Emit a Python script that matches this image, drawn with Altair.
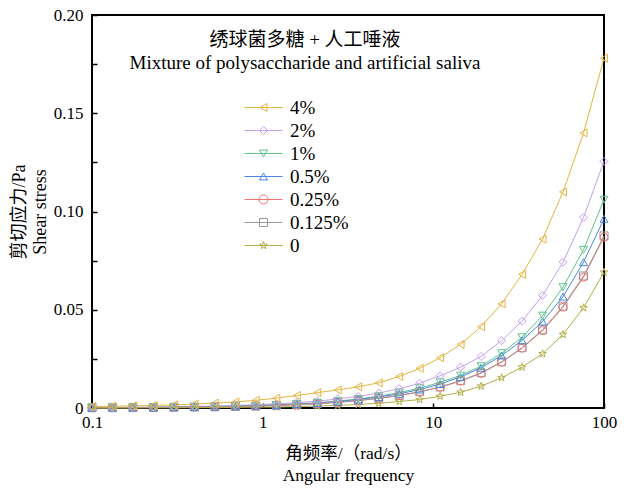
import altair as alt
import pandas as pd

# ---------------- data ----------------
freq = [0.1, 0.1318, 0.1738, 0.2291, 0.302, 0.3981, 0.5248, 0.6918, 0.912,
        1.202, 1.585, 2.089, 2.754, 3.631, 4.786, 6.31, 8.318, 10.96, 14.45,
        19.05, 25.12, 33.11, 43.65, 57.54, 75.86, 100]

series_names = ["4%", "2%", "1%", "0.5%", "0.25%", "0.125%", "0"]

s_4 = [0.0007, 0.0009, 0.0011, 0.0013, 0.0016, 0.002, 0.0025, 0.0031, 0.0039,
       0.005, 0.0064, 0.0078, 0.0092, 0.0108, 0.0128, 0.016, 0.0202, 0.0256,
       0.0324, 0.0414, 0.053, 0.068, 0.086, 0.110, 0.140, 0.178]
s_2 = [0.00022, 0.00028, 0.00036, 0.00046, 0.0006, 0.0008, 0.001, 0.0013,
       0.0016, 0.0021, 0.0027, 0.0035, 0.0046, 0.0059, 0.0076, 0.0098, 0.0126,
       0.0164, 0.0208, 0.0262, 0.0343, 0.0442, 0.0573, 0.0742, 0.097, 0.1255]
s_1 = [0.00015, 0.0002, 0.00025, 0.00033, 0.00043, 0.00056, 0.00073, 0.00095,
       0.0012, 0.0016, 0.0021, 0.0027, 0.0035, 0.0046, 0.006, 0.0078, 0.0101,
       0.0131, 0.0165, 0.0213, 0.0279, 0.036, 0.047, 0.0615, 0.0805, 0.106]
s_05 = [0.00014, 0.00018, 0.00024, 0.0003, 0.0004, 0.00053, 0.0007, 0.0009,
        0.0012, 0.0015, 0.0019, 0.0025, 0.0033, 0.0043, 0.0056, 0.0072, 0.0094,
        0.0122, 0.0158, 0.0205, 0.0267, 0.0344, 0.044, 0.0567, 0.0742, 0.0963]
s_025 = [0.00013, 0.00016, 0.00021, 0.00028, 0.00036, 0.00047, 0.0006, 0.0008,
         0.001, 0.0013, 0.0017, 0.0022, 0.0029, 0.0038, 0.0049, 0.0063, 0.0082,
         0.0106, 0.0137, 0.0177, 0.0233, 0.0304, 0.0394, 0.0513, 0.0666, 0.0869]
s_0125 = [0.00013, 0.00017, 0.00022, 0.00029, 0.00037, 0.00048, 0.00062, 0.0008,
          0.001, 0.0013, 0.0017, 0.0022, 0.0029, 0.0038, 0.005, 0.0064, 0.0083,
          0.0107, 0.0139, 0.0179, 0.0235, 0.0307, 0.0398, 0.0518, 0.0672, 0.0876]
s_0 = [0.00003, 0.00005, 0.00006, 0.00008, 0.00011, 0.00015, 0.0002, 0.0003,
       0.0004, 0.0005, 0.0007, 0.001, 0.0013, 0.0018, 0.0024, 0.0033, 0.0043,
       0.006, 0.008, 0.0111, 0.0154, 0.0208, 0.0276, 0.0374, 0.051, 0.0691]

x_tick_values = [0.1, 1, 10, 100]
y_tick_values = [0, 0.025, 0.05, 0.075, 0.1, 0.125, 0.15, 0.175, 0.2]

title_lines = ["绣球菌多糖 + 人工唾液", "Mixture of polysaccharide and artificial saliva"]
x_title = ["角频率/（rad/s）", "Angular frequency"]
y_title = ["剪切应力/Pa", "Shear stress"]

# ---------------- styling ----------------
series_values = {"4%": s_4, "2%": s_2, "1%": s_1, "0.5%": s_05,
                 "0.25%": s_025, "0.125%": s_0125, "0": s_0}
colors = ["#E6B440", "#C4A0EE", "#5EC48C", "#4A86E2", "#F07272", "#9A9A9A", "#B3AE48"]

STAR = ("M0,-1L0.235,-0.324L0.951,-0.309L0.38,0.124L0.588,0.809L0,0.4"
        "L-0.588,0.809L-0.38,0.124L-0.951,-0.309L-0.235,-0.324Z")
plot_shapes = {"4%": "triangle-left", "2%": "diamond", "1%": "triangle-down",
               "0.5%": "triangle-up", "0.25%": "circle", "0.125%": "square",
               "0": STAR}
LINE = "M-4.75,0L4.75,0"
legend_shapes = [
    LINE + "M-0.866,0L0.866,-1L0.866,1Z",
    LINE + "M-1,0L0,-1L1,0L0,1Z",
    LINE + "M0,0.866L-1,-0.866L1,-0.866Z",
    LINE + "M0,-0.866L1,0.866L-1,0.866Z",
    LINE + "M1.128,0A1.128,1.128,0,1,1,-1.128,0A1.128,1.128,0,1,1,1.128,0Z",
    LINE + "M-1,-1L1,-1L1,1L-1,1Z",
    LINE + STAR,
]

rows = []
for name in series_names:
    for f, v in zip(freq, series_values[name]):
        rows.append({"freq": f, "stress": v, "series": name})
df = pd.DataFrame(rows)

FONT = "Liberation Serif, Noto Sans CJK SC"
W, H = 512, 393

x_enc = alt.X(
    "freq:Q",
    scale=alt.Scale(type="log", domain=[0.1, 100]),
    axis=alt.Axis(values=x_tick_values, format="~g", title=x_title,
                  offset=-5, tickSize=5, tickWidth=1.5, tickColor="black",
                  domain=False, grid=False, labelPadding=6, labelFlush=False,
                  labelOverlap=False, labelFont=FONT, labelFontSize=17,
                  labelColor="black", titleFont=FONT, titleFontSize=17.5,
                  titleFontWeight="normal", titleColor="black",
                  titleLineHeight=22, titlePadding=14),
)
y_enc = alt.Y(
    "stress:Q",
    scale=alt.Scale(domain=[0, 0.2], nice=False, zero=True),
    axis=alt.Axis(values=y_tick_values,
                  labelExpr="datum.value == 0 ? '0' : (round(datum.value*1000) % 50 == 0 ? format(datum.value, '.2f') : '')",
                  title=y_title, offset=-5, tickSize=5, tickWidth=1.5,
                  tickColor="black", domain=False, grid=False, labelPadding=9,
                  labelOverlap=False, labelFont=FONT, labelFontSize=17,
                  labelColor="black", titleFont=FONT, titleFontSize=18,
                  titleFontWeight="normal", titleColor="black",
                  titleLineHeight=21, titlePadding=4),
)
color_scale = alt.Scale(domain=series_names, range=colors)

leg = alt.Legend(orient="none", legendX=162, legendY=83, title=None,
                 labelFont=FONT, labelFontSize=19, labelColor="black",
                 symbolSize=64, symbolStrokeWidth=1, symbolOpacity=1,
                 rowPadding=3, labelOffset=17, padding=0)

color_enc = alt.Color("series:N", scale=color_scale, legend=leg)

base = alt.Chart(df)

legend_layer = base.mark_point(filled=False, opacity=0, size=64).encode(
    x=x_enc, y=y_enc,
    color=color_enc,
    shape=alt.Shape("series:N",
                    scale=alt.Scale(domain=series_names, range=legend_shapes),
                    legend=leg),
)

lines = base.mark_line(strokeWidth=1).encode(x=x_enc, y=y_enc, color=color_enc)

point_layers = []
for name in reversed(series_names):
    point_layers.append(
        base.transform_filter(alt.datum.series == name)
        .mark_point(shape=plot_shapes[name], filled=False, size=64,
                    strokeWidth=1, opacity=1)
        .encode(x=x_enc, y=y_enc, color=color_enc)
    )

chart = (
    alt.layer(legend_layer, lines, *point_layers)
    .properties(
        width=W, height=H,
        background="white",
        view=alt.ViewBackground(stroke="black", strokeWidth=2, strokeOpacity=1),
        title=alt.TitleParams(text=title_lines, anchor="middle", dx=-43,
                              offset=-67, font=FONT, fontSize=19,
                              fontWeight="normal", color="black",
                              lineHeight=23),
        padding={"left": 92, "top": 15, "right": 28, "bottom": 81},
        autosize=alt.AutoSizeParams(type="none"),
    )
    .configure_view(stroke="black", strokeWidth=2)
)

chart.save("out.html", embed_options={"renderer": "svg", "actions": False})
